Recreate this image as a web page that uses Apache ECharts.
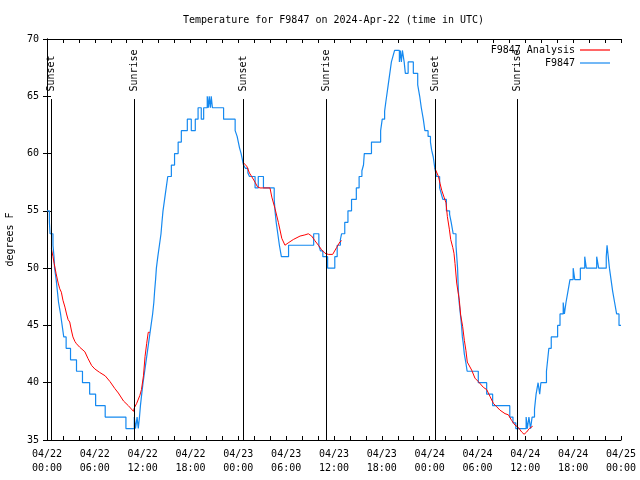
<!DOCTYPE html>
<html><head><meta charset="utf-8">
<script src="https://cdn.jsdelivr.net/npm/echarts@6/dist/echarts.min.js"></script>
<style>html,body{margin:0;padding:0;background:#fff}#c{width:640px;height:480px}</style>
</head><body><div id="c"></div>
<script>
// x values are hours since 04/22 00:00 UTC
const xTickLabels = ['04/22\n00:00','04/22\n06:00','04/22\n12:00','04/22\n18:00','04/23\n00:00','04/23\n06:00','04/23\n12:00','04/23\n18:00','04/24\n00:00','04/24\n06:00','04/24\n12:00','04/24\n18:00','04/25\n00:00'];

// F9847 observed temperature (change points: [hour, degF])
const observedF9847 = [
[0,55],[0.3,54],[0.38,53],[0.75,52],[0.88,51],[0.95,50],[1.15,49],[1.3,48],[1.45,47],[1.7,46],[1.9,45],[2.1,44],[2.4,43],[2.95,42],[3.7,41],[4.45,40],[5.35,39],[6.1,38],[7.3,37],[9.9,36],[10.95,37],[11.1,36],[11.3,37],[11.45,36],[11.6,37],[11.72,38],[11.88,39],[12.05,40],[12.25,41],[12.45,42],[12.65,43],[12.85,44],[13.05,45],[13.25,46],[13.4,47],[13.5,48],[13.62,49],[13.72,50],[13.9,51],[14.1,52],[14.3,53],[14.42,54],[14.55,55],[14.75,56],[14.95,57],[15.15,58],[15.6,59],[16.0,60],[16.45,61],[16.85,62],[17.6,63],[18.1,62],[18.6,63],[18.95,64],[19.35,63],[19.65,64],[20.1,65],[20.25,64],[20.35,65],[20.5,64],[20.6,65],[20.75,64],[22.15,63],[23.6,62],[23.85,61.5],[24.0,61],[24.15,60.5],[24.35,60],[24.5,59.5],[24.65,59],[24.9,58.7],[25.2,58.3],[25.4,58],[26.1,57],[26.5,58],[27.15,57],[28.5,56],[28.6,55],[28.75,54],[28.95,53],[29.15,52],[29.4,51],[30.3,52],[33.45,53],[34.1,52],[34.3,51.5],[34.6,51],[35.2,50],[36.1,51],[36.4,52],[36.8,52.5],[36.95,53],[37.35,54],[37.75,55],[38.2,56],[38.8,57],[39.15,58],[39.5,58.5],[39.7,59],[39.8,60],[40.7,61],[41.85,62],[42.05,63],[42.35,63.7],[42.5,64.5],[42.6,65],[42.8,66],[43.0,67],[43.2,68],[43.4,68.5],[43.6,69],[44.2,68],[44.32,69],[44.45,68],[44.58,69],[44.8,68],[44.95,67],[45.3,68],[45.95,67],[46.5,66],[46.75,65],[46.95,64],[47.2,63],[47.4,62],[47.8,61.5],[48.1,61],[48.25,60.3],[48.45,59.7],[48.65,58.7],[48.85,58],[49.25,57],[49.45,56.5],[49.65,56],[50.1,55],[50.5,54.7],[50.7,54],[50.95,53],[51.3,52],[51.4,51],[51.5,50],[51.6,48],[51.7,47],[51.85,46],[52.0,45],[52.1,44],[52.2,43.5],[52.35,42.5],[52.55,41.7],[52.7,41],[54.1,40],[55.15,39],[55.9,38],[58.05,37],[58.45,36.5],[58.8,36],[60.1,37],[60.25,36],[60.45,37],[60.65,36],[60.85,37],[61.15,37.7],[61.35,39],[61.6,40],[61.8,39],[61.95,40],[62.65,41],[62.8,42],[62.95,43],[63.25,44],[64.05,45],[64.35,46],[64.75,47],[64.9,46],[65.1,47],[65.35,48],[65.6,49],[66.0,50],[66.2,49],[66.9,50],[67.45,51],[67.65,50],[68.95,51],[69.2,50],[70.15,51],[70.25,52],[70.4,51],[70.55,50],[70.75,49],[70.95,48],[71.2,47],[71.45,46],[71.75,45],[72,45]
];

// F9847 Analysis, night segments
const analysisNight1 = [[0.55,51.7],[0.75,51],[0.9,50.4],[1.15,49.5],[1.4,48.7],[1.6,48.2],[1.8,47.9],[2.0,47.2],[2.25,46.6],[2.45,46],[2.65,45.5],[2.85,45.3],[3.05,44.6],[3.25,44],[3.5,43.6],[3.7,43.4],[4.1,43.1],[4.75,42.7],[5.15,42.1],[5.6,41.5],[6.0,41.2],[6.6,40.9],[7.3,40.6],[7.9,40.1],[8.5,39.5],[8.95,39.1],[9.6,38.4],[10.2,38],[10.85,37.5],[10.95,37.8],[11.25,38.2],[11.65,38.9],[11.85,39.4],[12.1,40.6],[12.3,42.3],[12.5,43.4],[12.7,44.4],[12.9,44.4]];
const analysisNight2 = [[24.63,59.2],[25.05,58.9],[25.4,58.3],[25.67,58],[26.1,57.5],[26.4,57.1],[26.72,57],[27.97,57],[28.2,56.2],[28.6,55.2],[29.02,54],[29.45,52.6],[29.85,52],[30.25,52.2],[30.9,52.5],[31.74,52.8],[32.35,52.9],[32.78,53],[33.2,52.8],[33.6,52.4],[34.04,52],[34.45,51.6],[34.87,51.3],[35.29,51.2],[35.83,51.2],[36.33,51.8],[36.75,52.3],[36.96,52.4]];
const analysisNight3 = [[48.67,58.7],[49.1,58],[49.3,57.4],[49.51,56.8],[49.8,56.2],[50.05,55.7],[50.22,54.5],[50.47,53.4],[50.64,52.5],[50.9,51.8],[51.05,51.3],[51.18,50.4],[51.39,48.7],[51.72,47.2],[51.89,45.9],[52.14,44.9],[52.35,43.7],[52.55,42.8],[52.72,41.8],[52.97,41.7],[53.27,41.1],[53.68,40.4],[54.1,40.1],[54.3,40],[54.73,39.6],[55.15,39.4],[55.57,38.8],[55.99,38.2],[56.41,37.9],[56.83,37.6],[57.45,37.3],[57.87,37.2],[58.29,36.7],[58.7,36.3],[59.12,36.1],[59.54,35.7],[59.84,35.5],[60.17,35.7],[60.5,36],[60.92,36.2]];

// Sunrise / sunset markers [hour, label]
const sunEvents = [[0.54,'Sunset'],[10.96,'Sunrise'],[24.63,'Sunset'],[35.05,'Sunrise'],[48.7,'Sunset'],[59.0,'Sunrise']];
const sunLineTop = 64.76;

const FONT = 'DejaVu Sans Mono';
const BLUE = '#1589f0';
const RED = '#ff0000';

const chart = echarts.init(document.getElementById('c'), null, {renderer:'canvas'});
const tickStyle = {show:true, inside:true, length:4, lineStyle:{color:'#000', width:1}};
const lineAx = {show:true, lineStyle:{color:'#000', width:1}};
const redSeries = [analysisNight1, analysisNight2, analysisNight3].map(seg => ({
  name:'F9847 Analysis', type:'line', data:seg, symbol:'none', showSymbol:false,
  lineStyle:{color:RED, width:1}, itemStyle:{color:RED}, z:4, animation:false
}));
chart.setOption({
  animation:false,
  backgroundColor:'#fff',
  title:{text:'Temperature for F9847 on 2024-Apr-22 (time in UTC)', left:178, top:10,
    textStyle:{fontFamily:FONT, fontSize:10, fontWeight:'normal', color:'#000'}},
  legend:{data:['F9847 Analysis','F9847'], orient:'vertical', right:25, top:39, align:'right',
    icon:'rect', itemWidth:30, itemHeight:1.2, itemGap:1, selectedMode:false,
    textStyle:{fontFamily:FONT, fontSize:10, color:'#000', lineHeight:12}},
  grid:{left:47, right:19, top:39, bottom:40, containLabel:false, outerBoundsMode:'none'},
  xAxis:[
    {type:'value', min:0, max:72, interval:2, position:'bottom', axisLine:lineAx, axisTick:tickStyle,
     splitLine:{show:false},
     axisLabel:{fontFamily:FONT, fontSize:10, color:'#000', margin:7, lineHeight:14, showMinLabel:true, showMaxLabel:true,
       formatter:v => (Math.round(v) % 6 === 0 ? xTickLabels[Math.round(v)/6] : '')}},
    {type:'value', min:0, max:72, interval:2, position:'top', axisLine:lineAx, axisTick:tickStyle,
     splitLine:{show:false}, axisLabel:{show:false}}
  ],
  yAxis:[
    {type:'value', min:35, max:70, interval:5, position:'left', axisLine:lineAx, axisTick:tickStyle,
     splitLine:{show:false}, name:'degrees F', nameLocation:'middle', nameGap:32, nameRotate:90,
     nameTextStyle:{fontFamily:FONT, fontSize:10, color:'#000'},
     axisLabel:{fontFamily:FONT, fontSize:10, color:'#000', margin:8}},
    {type:'value', min:35, max:70, interval:5, position:'right', axisLine:lineAx, axisTick:tickStyle,
     splitLine:{show:false}, axisLabel:{show:false}}
  ],
  series:[
    {name:'sun', type:'scatter', symbolSize:1, itemStyle:{color:'rgba(0,0,0,0)'}, silent:true, z:2,
     data:sunEvents.map(e => ({value:[e[0], sunLineTop], name:e[1]})),
     label:{show:true, position:'top', distance:7, rotate:90, align:'left', verticalAlign:'middle',
       formatter:'{b}', fontFamily:FONT, fontSize:10, color:'#000', opacity:1},
     markLine:{silent:true, symbol:['none','none'], label:{show:false}, animation:false,
       lineStyle:{color:'#000', width:1, type:'solid'},
       data:sunEvents.map(e => [{coord:[e[0], sunLineTop]},{coord:[e[0], 35]}])}},
    {name:'F9847', type:'line', step:'end', data:observedF9847, symbol:'none', showSymbol:false,
     lineStyle:{color:BLUE, width:1.2}, itemStyle:{color:BLUE}, z:3},
    ...redSeries
  ]
});
</script></body></html>
